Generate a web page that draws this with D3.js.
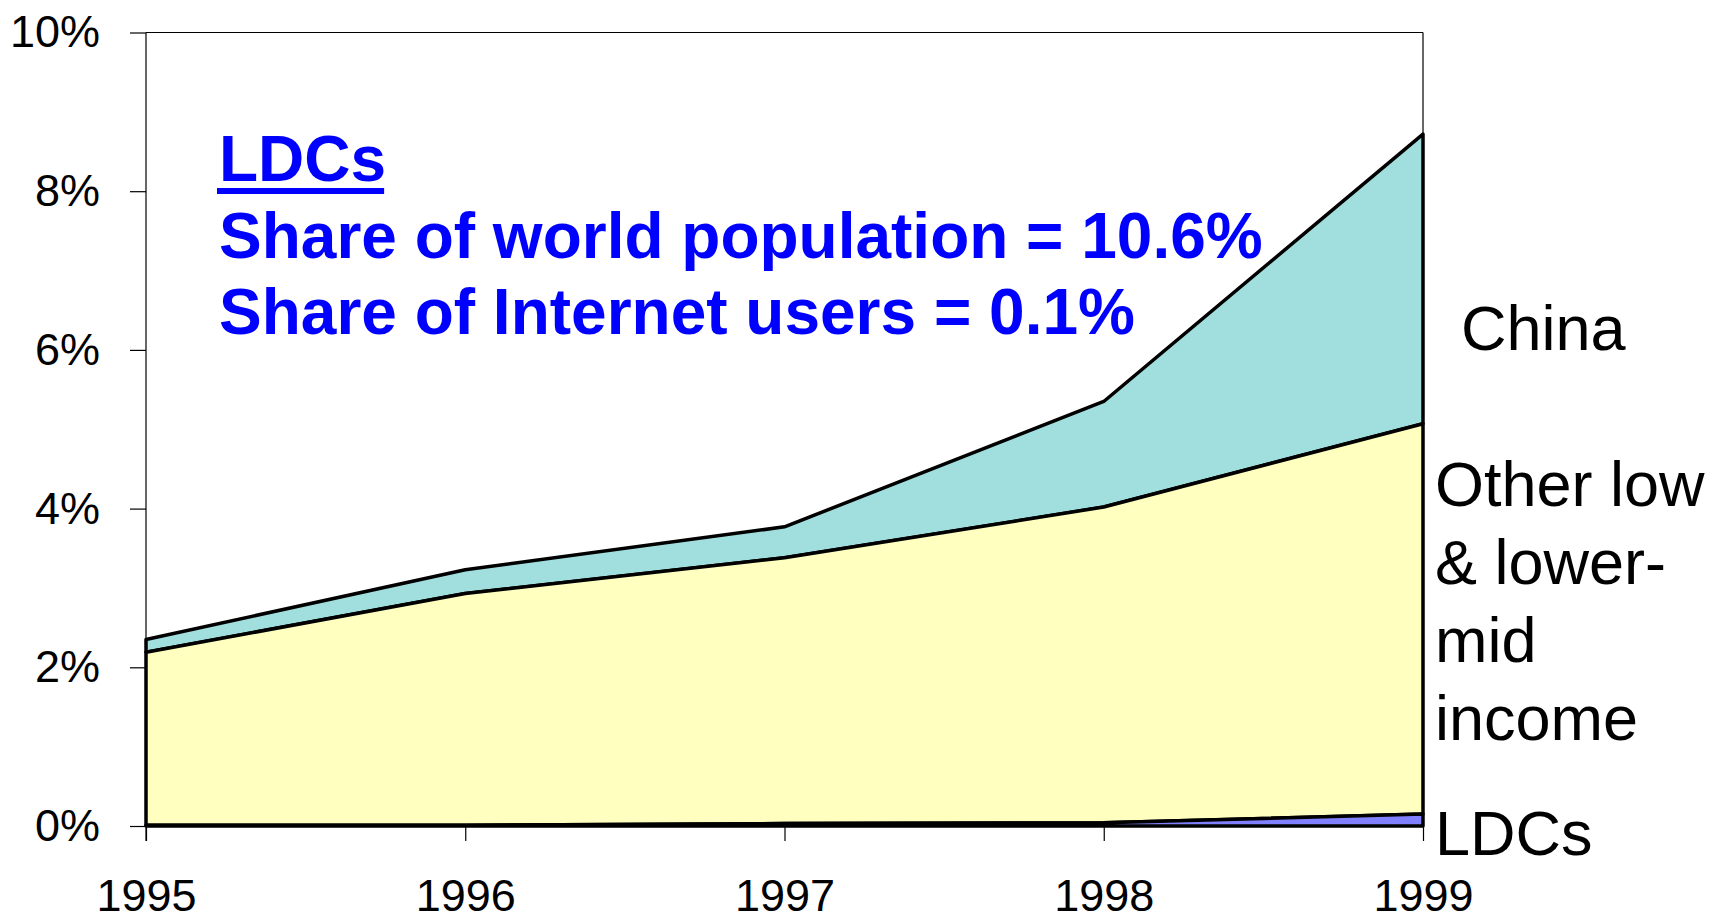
<!DOCTYPE html>
<html>
<head>
<meta charset="utf-8">
<script src="https://cdn.jsdelivr.net/npm/d3@7"></script>
<style>
  html, body { margin: 0; padding: 0; background: #fff; }
  svg { display: block; font-family: "Liberation Sans", Arial, sans-serif; }
</style>
</head>
<body>
<svg id="chart" width="1714" height="920"></svg>
<script>
// ---- data ----
const years = [1995, 1996, 1997, 1998, 1999];
const ldcs = [0.01, 0.01, 0.03, 0.04, 0.15];
const otherLowMid = [2.18, 2.92, 3.35, 3.98, 4.92];
const china = [0.16, 0.30, 0.39, 1.33, 3.65];
const yTicks = [0, 2, 4, 6, 8, 10];
const seriesKeys = ["LDCs", "Other", "China"];
const seriesColors = { LDCs: "#8080FF", Other: "#FFFFC0", China: "#A1DFDF" };
const rightLabels = [
  { key: "China", lines: ["China"] },
  { key: "Other", lines: ["Other low", "& lower-", "mid", "income"] },
  { key: "LDCs", lines: ["LDCs"] }
];
const noteTitle = "LDCs";
const noteLines = ["Share of world population = 10.6%", "Share of Internet users = 0.1%"];

// ---- layout ----
const svg = d3.select("#chart");
const mLeft = 146, mRight = 1423, mTop = 32.5, mBottom = 826;

const x = d3.scaleLinear().domain([years[0], years[years.length - 1]]).range([mLeft, mRight]);
const y = d3.scaleLinear().domain([0, 10]).range([mBottom, mTop]);

const table = years.map((yr, i) => ({ year: yr, LDCs: ldcs[i], Other: otherLowMid[i], China: china[i] }));
const stacked = d3.stack().keys(seriesKeys)(table);

// plot frame (top + right)
svg.append("line").attr("x1", mLeft).attr("x2", mRight).attr("y1", mTop).attr("y2", mTop)
  .attr("stroke", "#000").attr("stroke-width", 1.2);
svg.append("line").attr("x1", mRight).attr("x2", mRight).attr("y1", mTop).attr("y2", mBottom)
  .attr("stroke", "#000").attr("stroke-width", 1.2);

// areas
const area = d3.area()
  .x(d => x(d.data.year))
  .y0(d => y(d[0]))
  .y1(d => y(d[1]));

svg.append("g").selectAll("path")
  .data(stacked.slice().reverse())
  .join("path")
  .attr("d", d => area(d) + "Z")
  .attr("fill", d => seriesColors[d.key])
  .attr("stroke", "#000")
  .attr("stroke-width", 3.5)
  .attr("stroke-linejoin", "round");

// axes
const yAxis = d3.axisLeft(y)
  .tickValues(yTicks)
  .tickFormat(d => d + "%")
  .tickSize(16)
  .tickPadding(30);
const gy = svg.append("g").attr("transform", `translate(${mLeft},0)`).call(yAxis);
gy.select(".domain").attr("stroke", "#000").attr("stroke-width", 1.2).attr("d", `M0,${mTop}V${mBottom + 15}`);
gy.selectAll(".tick line").attr("stroke", "#000").attr("stroke-width", 1.2);
gy.selectAll(".tick text").attr("font-size", 45).attr("fill", "#000")
  .attr("font-family", "'Liberation Sans', Arial, sans-serif");

const xAxis = d3.axisBottom(x)
  .tickValues(years)
  .tickFormat(d3.format("d"))
  .tickSize(15)
  .tickPadding(38);
const gx = svg.append("g").attr("transform", `translate(0,${mBottom})`).call(xAxis);
gx.select(".domain").remove();
gx.selectAll(".tick line").attr("stroke", "#000").attr("stroke-width", 1.2);
gx.selectAll(".tick text").attr("font-size", 45).attr("fill", "#000")
  .attr("font-family", "'Liberation Sans', Arial, sans-serif");

// right-side series labels
const labelX = { China: 1461, Other: 1435, LDCs: 1435 };
const labelY = { China: 350, Other: 506, LDCs: 855 };
rightLabels.forEach(lab => {
  const t = svg.append("text")
    .attr("x", labelX[lab.key])
    .attr("y", labelY[lab.key])
    .attr("font-size", 63)
    .attr("fill", "#000");
  lab.lines.forEach((ln, i) => {
    t.append("tspan").attr("x", labelX[lab.key]).attr("dy", i === 0 ? 0 : 78).text(ln);
  });
});

// annotation
const note = svg.append("g").attr("fill", "#0000FF").attr("font-weight", "bold").attr("font-size", 64);
const titleText = note.append("text").attr("x", 219).attr("y", 181).text(noteTitle);
const tw = titleText.node().getComputedTextLength();
note.append("rect").attr("x", 217).attr("y", 188).attr("width", tw).attr("height", 6);
noteLines.forEach((ln, i) => {
  note.append("text").attr("x", 219).attr("y", 258 + i * 76).text(ln);
});
</script>
</body>
</html>
